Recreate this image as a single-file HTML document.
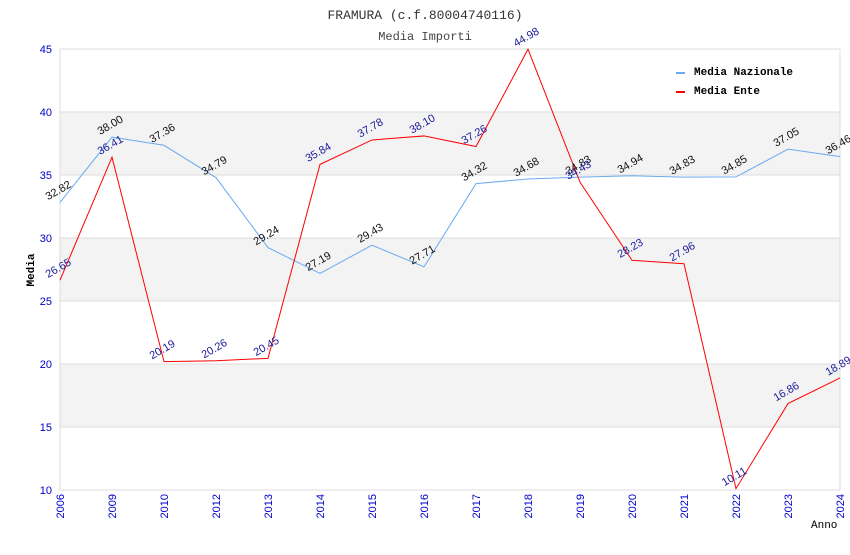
<!DOCTYPE html>
<html><head><meta charset="utf-8"><style>
body{margin:0;background:#fff;width:850px;height:550px;overflow:hidden}
text{font-family:"Liberation Sans",sans-serif}
.mono{font-family:"Liberation Mono","DejaVu Sans Mono",monospace}
</style></head><body>
<svg id="c" width="850" height="550">
<text class="mono" x="425" y="19" text-anchor="middle" font-size="13" fill="#333">FRAMURA (c.f.80004740116)</text>
<text class="mono" x="425" y="40" text-anchor="middle" font-size="12" fill="#444">Media Importi</text>
<g id="bands"></g><g id="grid"></g><g id="axes"></g><g id="series"></g><g id="labels"></g>
<text class="mono" x="34" y="270" text-anchor="middle" font-size="11" font-weight="bold" transform="rotate(-90 34 270)">Media</text>
<text class="mono" x="811" y="528" font-size="11">Anno</text>
<g>
<rect x="676" y="72" width="9" height="2" fill="#6aaaf0"/>
<text class="mono" x="694" y="75" font-size="11" font-weight="bold">Media Nazionale</text>
<rect x="676" y="91" width="9" height="2" fill="#f00"/>
<text class="mono" x="694" y="94" font-size="11" font-weight="bold">Media Ente</text>
</g>
</svg>
<script>
const categories=["2006","2009","2010","2012","2013","2014","2015","2016","2017","2018","2019","2020","2021","2022","2023","2024"];
const nazionale=[32.82,38.00,37.36,34.79,29.24,27.19,29.43,27.71,34.32,34.68,34.83,34.94,34.83,34.85,37.05,36.46];
const ente=[26.65,36.41,20.19,20.26,20.45,35.84,37.78,38.10,37.26,44.98,34.43,28.23,27.96,10.11,16.86,18.89];
const yTicks=[10,15,20,25,30,35,40,45];
const NS="http://www.w3.org/2000/svg";
const L=60,R=840,T=49,B=490,yMin=10,yMax=45;
const xs=i=>L+i*(R-L)/(categories.length-1);
const ys=v=>B-(v-yMin)/(yMax-yMin)*(B-T);
function mk(tag,attrs,parent){const e=document.createElementNS(NS,tag);for(const k in attrs)e.setAttribute(k,attrs[k]);document.getElementById(parent).appendChild(e);return e;}
for(let i=0;i<yTicks.length-1;i++){
  if(i%2===1){const r=mk('rect',{x:L,y:ys(yTicks[i+1]),width:R-L,height:ys(yTicks[i])-ys(yTicks[i+1]),fill:'#f3f3f3'},'bands');
  
  }
}
yTicks.forEach(v=>{
  const l=mk('line',{x1:L,x2:R,y1:ys(v),y2:ys(v),stroke:'#ddd'},'grid');
  
  
  const t=mk('text',{x:L-8,y:ys(v)+4,'text-anchor':'end','font-size':11,fill:'#00c'},'axes');
  t.textContent=v;
  
  
});
const ax=mk('path',{d:`M${L},${T}V${B}H${R}V${T}`,fill:'none',stroke:'#ddd'},'axes');


categories.forEach((c,i)=>{
  const x=xs(i);
  const t=mk('text',{x:x+4,y:B+4,'text-anchor':'end','font-size':11,fill:'#00c',transform:`rotate(-90 ${x+4} ${B+4})`},'axes');
  t.textContent=c;
  
  
});
function series(data,color,lblColor,name){
  const p=mk('polyline',{points:data.map((v,i)=>xs(i)+','+ys(v)).join(' '),fill:'none',stroke:color,'stroke-width':1},'series');
  
  
  data.forEach((v,i)=>{
    const x=xs(i),y=ys(v)-9;
    const t=mk('text',{x:x,y:y,'text-anchor':'middle','font-size':11,fill:lblColor,transform:`rotate(-30 ${x} ${y})`},'labels');
    t.textContent=v.toFixed(2);
    
    
  });
}
series(nazionale,'#6aaaf0','#111','nazionale');
series(ente,'#f00','#1a1a9a','ente');
</script>
</body></html>
